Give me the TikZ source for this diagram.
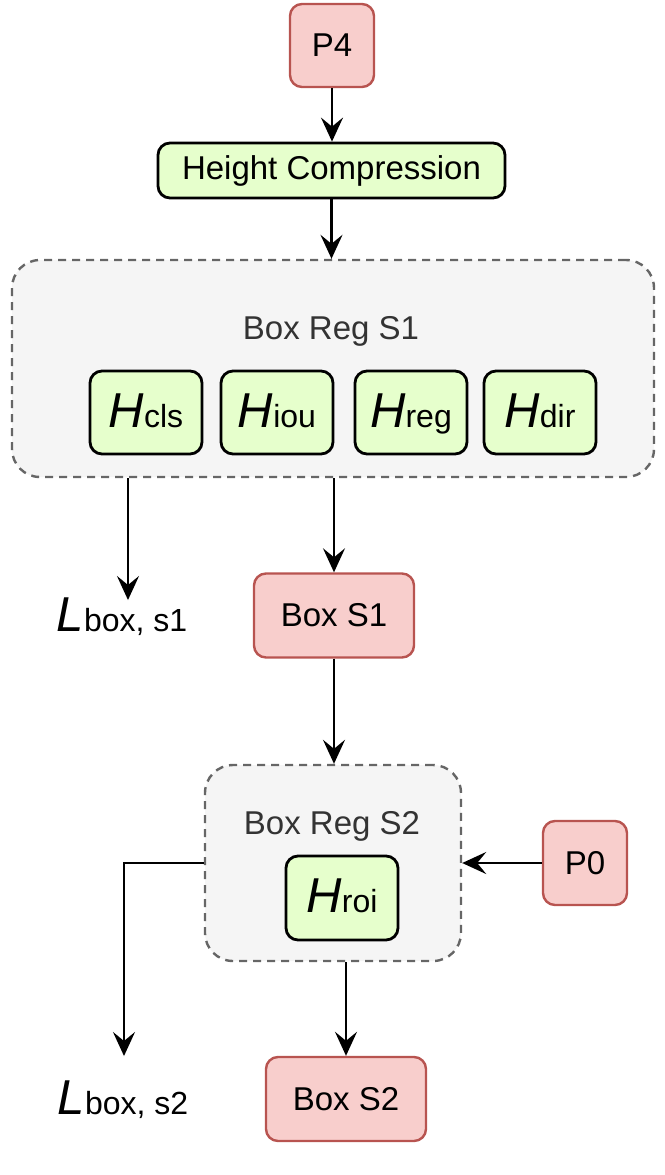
\documentclass[tikz,border=0pt]{standalone}
\usepackage{fontspec}
\setmainfont{Liberation Sans}
\usetikzlibrary{arrows.meta}
\definecolor{boxRed}{HTML}{F8CECC}
\definecolor{boxRedLine}{HTML}{B85450}
\definecolor{headGreen}{HTML}{E6FFCC}
\definecolor{regGray}{HTML}{F5F5F5}
\definecolor{regLine}{HTML}{666666}
\definecolor{regText}{HTML}{333333}
% big italic letter followed by a small upright tag
\newcommand{\headlbl}[2]{{\fontsize{24.5}{24.5}\selectfont\itshape #1}{\fontsize{16}{16}\selectfont #2}}

\begin{document}
\begin{tikzpicture}[x=0.5pt, y=-0.5pt,
    every node/.style={font=\fontsize{16.5}{19.8}\selectfont},
    redbox/.style={draw=boxRedLine, line width=1.2pt, fill=boxRed, rounded corners=6pt, minimum width=80pt, minimum height=42pt},
    greenbox/.style={draw=black, line width=1.4pt, fill=headGreen, rounded corners=6pt},
    headbox/.style={greenbox, minimum width=56pt, minimum height=41.5pt, text height=17.5pt, text depth=3pt},
    regbox/.style={draw=regLine, line width=1.2pt, dash pattern=on 4pt off 3pt, fill=regGray, rounded corners=14pt},
    losslbl/.style={inner sep=0pt, text height=17.5pt, text depth=3pt},
    flow/.style={-{Stealth[length=12pt, width=11pt, inset=4.5pt]}, line width=1.2pt}]
    \useasboundingbox (0,0) rectangle (665,1175);

    % first stage
    \node[redbox, minimum width=42pt, minimum height=41.5pt] (p4) at (332,45.5) {P4};
    \node[greenbox, minimum width=173.5pt, minimum height=27.5pt] (hc) at (331.5,170.5) {Height Compression};
    \node[regbox, minimum width=321pt, minimum height=108.5pt] (regone) at (333,368.5) {};
    \node[text=regText] (regonelbl) at (331,331) {Box Reg S1};
    \node[headbox] (hcls) at (146,412.5) {\headlbl{H}{cls}};
    \node[headbox] (hiou) at (277,412.5) {\headlbl{H}{iou}};
    \node[headbox] (hreg) at (411,412.5) {\headlbl{H}{reg}};
    \node[headbox] (hdir) at (540,412.5) {\headlbl{H}{dir}};
    \node[losslbl] (lossone) at (122,617) {\headlbl{L}{box, s1}};
    \coordinate (lossonetip) at (128,600);
    \node[redbox] (boxone) at (334,615.5) {Box S1};

    % second stage
    \node[regbox, minimum width=128pt, minimum height=98pt] (regtwo) at (333,863) {};
    \node[text=regText] (regtwolbl) at (332,826) {Box Reg S2};
    \node[headbox, minimum height=42pt] (hroi) at (342,898) {\headlbl{H}{roi}};
    \node[redbox, minimum width=42pt] (p0) at (585,863) {P0};
    \node[losslbl] (losstwo) at (123,1099.5) {\headlbl{L}{box, s2}};
    \coordinate (losstwotip) at (124,1056);
    \node[redbox] (boxtwo) at (346,1099) {Box S2};

    \draw[flow] (p4.south) -- (p4.south |- hc.north);
    \draw[flow] (hc.south) -- (hc.south |- regone.north);
    \draw[flow] (regone.south -| lossonetip) -- (lossonetip);
    \draw[flow] (regone.south -| boxone.north) -- (boxone.north);
    \draw[flow] (boxone.south) -- (boxone.south |- regtwo.north);
    \draw[flow] (p0.west) -- (p0.west -| regtwo.east);
    \draw[flow] (regtwo.west) -| (losstwotip);
    \draw[flow] (regtwo.south -| boxtwo.north) -- (boxtwo.north);
\end{tikzpicture}
\end{document}
